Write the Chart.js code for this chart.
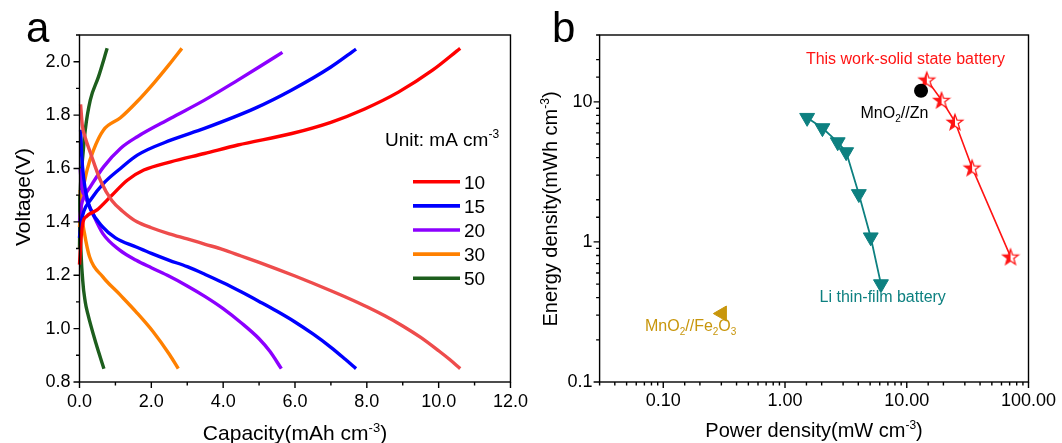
<!DOCTYPE html>
<html>
<head>
<meta charset="utf-8">
<script src="https://cdn.jsdelivr.net/npm/chart.js@4"></script>
<style>
  html, body { margin: 0; padding: 0; background: #fff; }
  body { width: 1062px; height: 443px; position: relative; overflow: hidden; font-family: "Liberation Sans", Arial, sans-serif; }
  .panel { position: absolute; top: 0; width: 531px; height: 443px; }
  .tag { position: absolute; font-size: 42px; line-height: 42px; color: #000; }
</style>
</head>
<body>
<div class="panel" style="left:0"><canvas id="chartA"></canvas></div>
<div class="panel" style="left:531px"><canvas id="chartB"></canvas></div>
<div class="tag" style="left:26px;top:7px">a</div>
<div class="tag" style="left:552px;top:7px">b</div>
<script>
// ---- panel a: charge / discharge curves, [capacity, voltage]
const rates = ['10', '15', '20', '30', '50'];

const charge10 = [[0,1.24],[0.05,1.35],[0.1,1.40],[0.19,1.42],[0.49,1.445],[0.86,1.494],[1.33,1.556],[1.79,1.594],[2.54,1.625],[3.48,1.656],[4.41,1.688],[5.91,1.731],[7.0,1.773],[7.94,1.823],[8.88,1.886],[9.83,1.968],[10.6,2.05]];
const discharge10 = [[0.03,1.84],[0.08,1.76],[0.15,1.72],[0.3,1.66],[0.6,1.55],[0.9,1.48],[1.2,1.44],[1.6,1.40],[2.0,1.378],[2.5,1.355],[3.0,1.336],[3.5,1.316],[4.0,1.296],[4.5,1.272],[5.0,1.248],[5.5,1.223],[6.0,1.197],[6.5,1.17],[7.0,1.142],[7.5,1.113],[8.0,1.082],[8.5,1.048],[9.0,1.01],[9.5,0.967],[10.0,0.917],[10.3,0.885],[10.6,0.85]];

const charge15 = [[0,1.34],[0.05,1.40],[0.12,1.44],[0.3,1.481],[0.67,1.544],[1.14,1.60],[1.61,1.65],[2.54,1.706],[3.48,1.75],[4.88,1.825],[5.91,1.894],[7.0,1.98],[7.7,2.047]];
const discharge15 = [[0.03,1.745],[0.06,1.65],[0.12,1.56],[0.19,1.50],[0.3,1.45],[0.65,1.38],[1.0,1.34],[1.58,1.306],[2.0,1.282],[2.5,1.256],[3.0,1.232],[3.5,1.203],[4.0,1.172],[4.5,1.138],[5.0,1.102],[5.5,1.065],[6.0,1.025],[6.5,0.98],[7.0,0.93],[7.4,0.885],[7.7,0.85]];

const charge20 = [[0,1.40],[0.05,1.46],[0.13,1.494],[0.3,1.531],[0.67,1.606],[1.14,1.675],[1.61,1.719],[2.54,1.788],[3.48,1.856],[4.41,1.931],[5.0,1.98],[5.65,2.035]];
const discharge20 = [[0.02,1.60],[0.06,1.53],[0.14,1.50],[0.37,1.43],[0.65,1.356],[1.12,1.294],[1.58,1.256],[2.0,1.228],[2.5,1.196],[3.0,1.16],[3.5,1.12],[4.0,1.075],[4.5,1.022],[5.0,0.962],[5.3,0.915],[5.62,0.85]];

const charge30 = [[0,1.38],[0.07,1.494],[0.21,1.594],[0.39,1.669],[0.67,1.744],[1.14,1.79],[1.6,1.85],[2.07,1.92],[2.5,1.99],[2.85,2.05]];
const discharge30 = [[0.02,1.52],[0.06,1.43],[0.14,1.356],[0.28,1.269],[0.65,1.194],[1.12,1.128],[1.58,1.062],[2.04,0.99],[2.51,0.902],[2.75,0.85]];

const charge50 = [[0,1.30],[0.02,1.50],[0.05,1.58],[0.09,1.644],[0.16,1.744],[0.3,1.856],[0.53,1.944],[0.77,2.05]];
const discharge50 = [[0.01,1.50],[0.03,1.34],[0.09,1.18],[0.16,1.10],[0.23,1.056],[0.46,0.944],[0.68,0.85]];

// ---- panel b: Ragone plot (power mW cm-3, energy mWh cm-3)
const powerThisWork = [14.6, 19.3, 24.9, 34.4, 71.2];
const energyThisWork = [14.4, 10.3, 7.2, 3.39, 0.785];
const powerLiFilm = [1.52, 2.03, 2.71, 3.18, 4.04, 5.06, 6.14];
const energyLiFilm = [7.7, 6.5, 5.16, 4.38, 2.2, 1.08, 0.5];
const powerMnZn = [13.1];
const energyMnZn = [12.0];
const powerMnFe = [0.304];
const energyMnFe = [0.308];

const FONT = '"Liberation Sans", Arial, sans-serif';
Chart.defaults.font.family = FONT;
Chart.defaults.color = '#000';
Chart.defaults.animation = false;

const rateColors = ['#ff0000', '#0000ff', '#8c00ff', '#ff8000', '#1d5e1d'];
const dischargeColors = ['#ee4c4c', '#0000ff', '#8c00ff', '#ff8000', '#1d5e1d'];
const RED = '#ff1414', TEAL = '#0d8080', GOLD = '#c8960c';

function toXY(pairs) {
  return pairs.map(p => ({ x: p[0], y: p[1] }));
}
function zip(xs, ys) {
  return xs.map((v, i) => ({ x: v, y: ys[i] }));
}

// text with super/subscripts, parts = [[text, ''|'sup'|'sub'], ...]
function drawRich(ctx, parts, x, y, size, color, align, angle) {
  ctx.save();
  ctx.translate(x, y);
  if (angle) ctx.rotate(angle);
  ctx.fillStyle = color;
  ctx.textBaseline = 'alphabetic';
  const small = Math.round(size * 0.62);
  let total = 0;
  const widths = parts.map(p => {
    ctx.font = (p[1] ? small : size) + 'px ' + FONT;
    const w = ctx.measureText(p[0]).width;
    total += w;
    return w;
  });
  let cx = align === 'center' ? -total / 2 : (align === 'right' ? -total : 0);
  parts.forEach((p, i) => {
    ctx.font = (p[1] ? small : size) + 'px ' + FONT;
    const dy = p[1] === 'sup' ? -size * 0.4 : (p[1] === 'sub' ? size * 0.24 : 0);
    ctx.fillText(p[0], cx, dy);
    cx += widths[i];
  });
  ctx.restore();
}

// box around plot + outward major/minor ticks
const frameTicks = {
  id: 'frameTicks',
  afterDraw(chart) {
    const { ctx, chartArea: a } = chart;
    const xs = chart.scales.x, ys = chart.scales.y;
    ctx.save();
    ctx.strokeStyle = '#000';
    ctx.lineWidth = 1.4;
    ctx.beginPath();
    xs.ticks.forEach(t => {
      const p = xs.getPixelForValue(t.value);
      const len = t.label !== '' ? 6 : 3.5;
      ctx.moveTo(p, a.bottom);
      ctx.lineTo(p, a.bottom + len);
    });
    ys.ticks.forEach(t => {
      const p = ys.getPixelForValue(t.value);
      const len = t.label !== '' ? 6 : 3.5;
      ctx.moveTo(a.left, p);
      ctx.lineTo(a.left - len, p);
    });
    ctx.stroke();
    ctx.strokeRect(a.left, a.top, a.right - a.left, a.bottom - a.top);
    ctx.restore();
  }
};

const axisTitles = {
  id: 'axisTitles',
  afterDraw(chart, args, o) {
    const { ctx, chartArea: a } = chart;
    drawRich(ctx, o.x, (a.left + a.right) / 2, a.bottom + o.xDrop, o.size, '#000', 'center');
    drawRich(ctx, o.y, a.left - o.yShift, o.yMid, o.size, '#000', 'center', -Math.PI / 2);
  }
};

const rateLegend = {
  id: 'rateLegend',
  afterDraw(chart) {
    const ctx = chart.ctx;
    drawRich(ctx, [['Unit: mA cm', ''], ['-3', 'sup']], 385, 146, 19, '#000', 'left');
    rates.forEach((r, i) => {
      const y = 181.7 + i * 24.15;
      ctx.save();
      ctx.strokeStyle = rateColors[i];
      ctx.lineWidth = 3.6;
      ctx.beginPath();
      ctx.moveTo(413, y);
      ctx.lineTo(460, y);
      ctx.stroke();
      ctx.restore();
      drawRich(ctx, [[r, '']], 464, y + 7, 19, '#000', 'left');
    });
  }
};

const notes = {
  id: 'notes',
  afterDatasetsDraw(chart, args, o) {
    const xs = chart.scales.x, ys = chart.scales.y;
    o.items.forEach(n => {
      drawRich(chart.ctx, n.parts, xs.getPixelForValue(n.x), ys.getPixelForValue(n.y), 16, n.color, 'center');
    });
  }
};

const hiddenGrid = { display: true, drawOnChartArea: false, drawTicks: true, tickLength: 6, tickColor: 'rgba(0,0,0,0)' };

// ---------------- panel a
const chargeSets = [charge10, charge15, charge20, charge30, charge50];
const dischargeSets = [discharge10, discharge15, discharge20, discharge30, discharge50];
const curveSets = [];
rates.forEach((r, i) => {
  curveSets.push({ label: r + ' discharge', data: toXY(dischargeSets[i]), borderColor: dischargeColors[i] });
  curveSets.push({ label: r, data: toXY(chargeSets[i]), borderColor: rateColors[i] });
});
curveSets.forEach(d => {
  d.showLine = true;
  d.pointRadius = 0;
  d.borderWidth = 3.4;
  d.cubicInterpolationMode = 'monotone';
  d.clip = 6;
});

new Chart(document.getElementById('chartA'), {
  type: 'scatter',
  data: { datasets: curveSets },
  options: {
    responsive: true,
    maintainAspectRatio: false,
    layout: { padding: { top: 35, right: 20.3, left: 0, bottom: 0 } },
    plugins: {
      legend: { display: false },
      tooltip: { enabled: false },
      axisTitles: {
        x: [['Capacity(mAh cm', ''], ['-3', 'sup'], [')', '']],
        y: [['Voltage(V)', '']],
        size: 21, xDrop: 58, yShift: 49.5, yMid: 197
      }
    },
    scales: {
      x: {
        type: 'linear', min: 0, max: 12,
        afterFit(s) { s.height = 61; },
        grid: hiddenGrid,
        border: { display: false },
        ticks: {
          stepSize: 1, autoSkip: false, maxRotation: 0, padding: 3,
          font: { size: 18 },
          callback: v => Math.round(v) % 2 === 0 ? v.toFixed(1) : ''
        }
      },
      y: {
        type: 'linear', min: 0.8, max: 2.1,
        afterFit(s) { s.width = 79.5; },
        grid: hiddenGrid,
        border: { display: false },
        ticks: {
          stepSize: 0.1, autoSkip: false, padding: 3,
          font: { size: 18 },
          callback: v => Math.round(v * 10) % 2 === 0 ? v.toFixed(1) : ''
        }
      }
    }
  },
  plugins: [frameTicks, axisTitles, rateLegend]
});

// ---------------- panel b
function starImage(color) {
  const c = document.createElement('canvas');
  c.width = 20;
  c.height = 20;
  const g = c.getContext('2d');
  g.beginPath();
  for (let i = 0; i < 10; i++) {
    const r = i % 2 ? 3.4 : 8.2;
    const ang = -Math.PI / 2 + i * Math.PI / 5;
    const px = 10 + r * Math.cos(ang), py = 10.8 + r * Math.sin(ang);
    if (i) g.lineTo(px, py); else g.moveTo(px, py);
  }
  g.closePath();
  g.fillStyle = '#fff';
  g.fill();
  g.save();
  g.clip();
  g.fillStyle = color;
  g.fillRect(0, 0, 10, 20);
  g.restore();
  g.strokeStyle = color;
  g.lineWidth = 1.3;
  g.stroke();
  return c;
}

const isDecade = v => Math.abs(Math.log10(v) - Math.round(Math.log10(v))) < 1e-6;

new Chart(document.getElementById('chartB'), {
  type: 'scatter',
  data: {
    datasets: [
      {
        label: 'Li thin-film battery', data: zip(powerLiFilm, energyLiFilm),
        showLine: true, borderColor: TEAL, borderWidth: 1.8,
        pointStyle: 'triangle', rotation: 180, pointRadius: 8.6,
        pointBackgroundColor: TEAL, pointBorderColor: TEAL, pointBorderWidth: 1
      },
      {
        label: 'MnO2//Zn', data: zip(powerMnZn, energyMnZn),
        pointStyle: 'circle', pointRadius: 7,
        pointBackgroundColor: '#000', pointBorderColor: '#000', pointBorderWidth: 0
      },
      {
        label: 'MnO2//Fe2O3', data: zip(powerMnFe, energyMnFe),
        pointStyle: 'triangle', rotation: -90, pointRadius: 8.7,
        pointBackgroundColor: GOLD, pointBorderColor: GOLD, pointBorderWidth: 1
      },
      {
        label: 'This work-solid state battery', data: zip(powerThisWork, energyThisWork),
        showLine: true, borderColor: RED, borderWidth: 1.6,
        pointStyle: starImage(RED), pointRadius: 9
      }
    ]
  },
  options: {
    responsive: true,
    maintainAspectRatio: false,
    layout: { padding: { top: 35, right: 33.5, left: 0, bottom: 0 } },
    plugins: {
      legend: { display: false },
      tooltip: { enabled: false },
      axisTitles: {
        x: [['Power density(mW cm', ''], ['-3', 'sup'], [')', '']],
        y: [['Energy density(mWh cm', ''], ['-3', 'sup'], [')', '']],
        size: 20, xDrop: 55, yShift: 42.6, yMid: 209
      },
      notes: {
        items: [
          { parts: [['This work-solid state battery', '']], x: 9.76, y: 18.7, color: RED },
          { parts: [['MnO', ''], ['2', 'sub'], ['//Zn', '']], x: 7.92, y: 7.64, color: '#000' },
          { parts: [['Li thin-film battery', '']], x: 6.35, y: 0.375, color: TEAL },
          { parts: [['MnO', ''], ['2', 'sub'], ['//Fe', ''], ['2', 'sub'], ['O', ''], ['3', 'sub']], x: 0.168, y: 0.231, color: GOLD }
        ]
      }
    },
    scales: {
      x: {
        type: 'logarithmic', min: 0.03, max: 100,
        afterFit(s) { s.height = 61; },
        grid: hiddenGrid,
        border: { display: false },
        ticks: {
          autoSkip: false, maxRotation: 0, padding: 2,
          font: { size: 18 },
          callback: v => isDecade(v) ? v.toFixed(2) : ''
        }
      },
      y: {
        type: 'logarithmic', min: 0.1, max: 30,
        afterFit(s) { s.width = 68.6; },
        grid: hiddenGrid,
        border: { display: false },
        ticks: {
          autoSkip: false, padding: 1,
          font: { size: 18 },
          callback: v => isDecade(v) ? String(Number(v.toPrecision(3))) : ''
        }
      }
    }
  },
  plugins: [frameTicks, axisTitles, notes]
});
</script>
</body>
</html>
